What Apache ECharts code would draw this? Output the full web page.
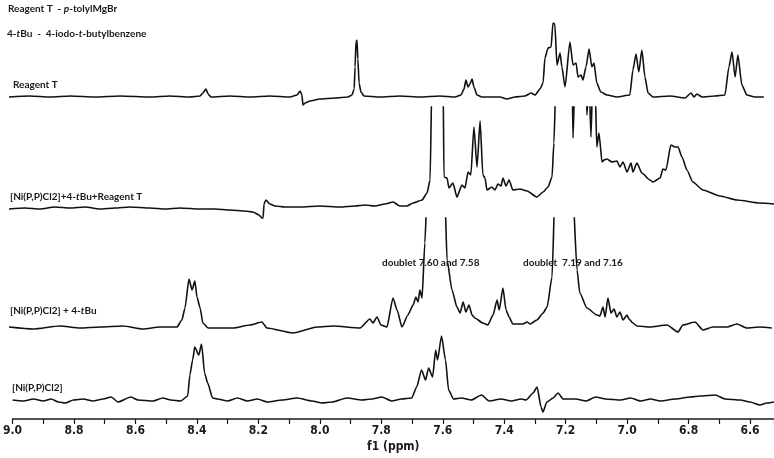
<!DOCTYPE html>
<html>
<head>
<meta charset="utf-8">
<script src="https://cdn.jsdelivr.net/npm/echarts@6/dist/echarts.min.js"></script>
<style>
  html, body { margin: 0; padding: 0; background: #fff; }
  #chart { width: 774px; height: 458px; }
</style>
</head>
<body>
<div id="chart"></div>
<script>
// spectra: [shift (ppm), intensity above baseline]
const reagentT = [
  [9.000, 0], [8.932, 1], [8.867, 0], [8.802, 1], [8.721, 0], [8.640, 1], [8.543, 0], [8.479, 1],
  [8.414, 0], [8.381, 1], [8.372, 4], [8.362, 8], [8.355, 3], [8.346, 0], [8.284, 1], [8.219, 0],
  [8.155, 1], [8.090, 0], [8.067, 2], [8.057, 6], [8.051, 2], [8.048, -8], [8.041, -6], [8.025, -4],
  [7.993, -2], [7.944, -1], [7.902, 0], [7.889, 2], [7.882, 8], [7.879, 30], [7.876, 55], [7.873, 57],
  [7.870, 38], [7.866, 14], [7.860, 5], [7.850, 1], [7.798, 0], [7.734, 1], [7.669, 0], [7.604, 1],
  [7.555, 0], [7.536, 2], [7.526, 8], [7.520, 17], [7.513, 10], [7.507, 13], [7.500, 18], [7.494, 10],
  [7.484, 2], [7.468, 0], [7.410, 0], [7.387, -2], [7.361, 0], [7.329, 1], [7.309, 4], [7.296, 2],
  [7.280, 8], [7.270, 14], [7.264, 39], [7.254, 49], [7.244, 50], [7.238, 74], [7.232, 73], [7.225, 32],
  [7.215, 44], [7.209, 30], [7.199, 10], [7.183, 55], [7.173, 32], [7.163, 34], [7.157, 20], [7.147, 22],
  [7.141, 17], [7.131, 30], [7.121, 48], [7.112, 30], [7.105, 34], [7.096, 14], [7.083, 5], [7.063, 2],
  [7.031, 0], [6.989, 2], [6.979, 27], [6.969, 43], [6.960, 25], [6.950, 47], [6.940, 20], [6.930, 4],
  [6.914, 0], [6.859, 1], [6.810, -1], [6.791, 4], [6.781, 0], [6.772, 3], [6.755, 0], [6.713, 1],
  [6.681, 2], [6.668, 30], [6.658, 45], [6.648, 20], [6.639, 42], [6.626, 12], [6.610, 2], [6.584, 0],
  [6.555, 0]
];

const niMix = [
  [9.000, -1], [8.948, 0], [8.900, -1], [8.851, 1], [8.802, 0], [8.754, 1], [8.705, -1], [8.657, 0],
  [8.608, 1], [8.543, 0], [8.495, -1], [8.446, 0], [8.381, -1], [8.333, -1], [8.284, -2], [8.236, -3],
  [8.210, -4], [8.190, -7], [8.181, -10], [8.177, -10], [8.174, 4], [8.168, 8], [8.155, 4], [8.138, 2],
  [8.106, 1], [8.057, 1], [7.993, 2], [7.928, 1], [7.879, 2], [7.847, 3], [7.815, 2], [7.782, 4],
  [7.756, 6], [7.734, 2], [7.711, 2], [7.691, 5], [7.662, 8], [7.646, 15], [7.636, 28], [7.630, 130],
  [7.594, 130], [7.591, 31], [7.581, 30], [7.575, 20], [7.562, 25], [7.549, 11], [7.533, 23], [7.523, 20],
  [7.513, 36], [7.504, 33], [7.494, 81], [7.484, 41], [7.474, 87], [7.465, 33], [7.458, 30], [7.452, 18],
  [7.436, 21], [7.426, 18], [7.416, 24], [7.406, 22], [7.400, 30], [7.390, 22], [7.380, 28], [7.368, 18],
  [7.345, 19], [7.322, 17], [7.290, 11], [7.270, 16], [7.254, 21], [7.241, 31], [7.235, 65], [7.228, 130],
  [7.176, 130], [7.173, 70], [7.167, 130], [7.131, 130], [7.128, 93], [7.121, 130], [7.115, 71], [7.109, 130],
  [7.102, 130], [7.096, 61], [7.089, 75], [7.079, 46], [7.073, 48], [7.063, 49], [7.047, 46], [7.031, 47],
  [7.021, 41], [7.011, 46], [6.998, 36], [6.985, 45], [6.979, 36], [6.966, 45], [6.950, 35], [6.924, 28],
  [6.914, 26], [6.891, 30], [6.882, 39], [6.872, 38], [6.856, 63], [6.843, 61], [6.833, 61], [6.820, 51],
  [6.804, 38], [6.785, 26], [6.752, 18], [6.697, 12], [6.642, 8], [6.568, 5], [6.522, 4]
];

const niTBu = [
  [9.000, 0], [8.922, -2], [8.835, 1], [8.770, -1], [8.705, 0], [8.631, 1], [8.566, -2], [8.511, 0],
  [8.456, 0], [8.440, 7], [8.430, 19], [8.417, 48], [8.407, 37], [8.398, 46], [8.391, 30], [8.381, 19],
  [8.372, 4], [8.355, -1], [8.274, -1], [8.219, 2], [8.181, 5], [8.164, -1], [8.080, -6], [8.002, 0],
  [7.951, 1], [7.863, -1], [7.831, 8], [7.821, 4], [7.808, 10], [7.795, 2], [7.776, 0], [7.756, 29],
  [7.743, 17], [7.727, 0], [7.708, 12], [7.691, 22], [7.682, 30], [7.675, 25], [7.669, 37], [7.662, 29],
  [7.653, 84], [7.646, 130], [7.588, 130], [7.581, 67], [7.565, 37], [7.549, 20], [7.539, 14], [7.529, 25],
  [7.520, 15], [7.510, 22], [7.500, 12], [7.491, 9], [7.465, 4], [7.449, 2], [7.432, 12], [7.419, 27],
  [7.412, 17], [7.400, 39], [7.390, 17], [7.380, 10], [7.368, 3], [7.335, 3], [7.322, 5], [7.312, 3],
  [7.290, 7], [7.270, 14], [7.257, 20], [7.241, 50], [7.232, 130], [7.173, 130], [7.160, 57], [7.151, 34],
  [7.128, 19], [7.096, 12], [7.086, 11], [7.076, 20], [7.069, 10], [7.060, 29], [7.050, 14], [7.040, 18],
  [7.031, 10], [7.021, 15], [7.011, 7], [6.998, 12], [6.992, 8], [6.979, 4], [6.966, 1], [6.924, 0],
  [6.869, 2], [6.833, -5], [6.817, 2], [6.778, 5], [6.752, -3], [6.720, 0], [6.674, 0], [6.642, 3],
  [6.610, -1], [6.568, 0], [6.529, -1]
];

const niCl2 = [
  [9.000, 0], [8.964, -1], [8.932, 1], [8.900, -1], [8.874, 1], [8.851, -2], [8.828, -3], [8.802, 0],
  [8.770, 1], [8.738, -1], [8.705, 1], [8.679, 3], [8.657, -2], [8.615, 3], [8.592, 0], [8.543, -1],
  [8.511, 2], [8.485, 0], [8.453, -1], [8.430, 4], [8.423, 25], [8.414, 40], [8.407, 53], [8.394, 45],
  [8.385, 56], [8.375, 27], [8.365, 17], [8.349, 2], [8.333, 1], [8.300, -1], [8.268, 2], [8.236, -1],
  [8.203, 1], [8.171, -2], [8.122, 0], [8.074, 2], [8.025, -1], [7.993, -3], [7.960, -2], [7.912, 2],
  [7.863, 0], [7.831, 1], [7.798, 3], [7.766, -1], [7.734, 1], [7.701, 2], [7.685, 13], [7.669, 30],
  [7.656, 20], [7.646, 32], [7.633, 23], [7.623, 50], [7.617, 40], [7.604, 64], [7.591, 40], [7.581, 10],
  [7.565, 1], [7.539, 2], [7.507, 0], [7.474, 5], [7.449, -1], [7.410, 1], [7.377, -1], [7.345, 1],
  [7.329, 0], [7.306, 7], [7.293, 13], [7.280, -7], [7.274, -12], [7.261, -2], [7.241, 2], [7.225, 7],
  [7.208, 1], [7.167, 1], [7.134, -1], [7.102, 3], [7.070, 1], [7.021, 0], [6.989, 2], [6.956, -1],
  [6.924, 1], [6.892, -1], [6.843, 1], [6.794, 3], [6.762, 4], [6.713, 5], [6.681, 1], [6.632, 0],
  [6.600, -2], [6.568, -5], [6.545, -3], [6.522, -2]
];

const tickLabels = ['9.0', '8.8', '8.6', '8.4', '8.2', '8.0', '7.8', '7.6', '7.4', '7.2', '7.0', '6.8', '6.6'];

// ppm runs right-to-left, so the x axis is laid out on -ppm
const X_MIN = -9.0;
const X_MAX = -6.522;
const lineColor = '#111';
const textFont = 'Lato, "Open Sans", sans-serif';
const axisFont = '"DejaVu Sans Condensed", "DejaVu Sans", sans-serif';

// one grid per trace, y in px above that trace's baseline
const grids = [
  { top: 0, height: 110, ymin: -13, ymax: 97 },
  { top: 107, height: 118, ymin: -17, ymax: 101 },
  { top: 218, height: 120, ymin: -11, ymax: 109 },
  { top: 330, height: 89, ymin: -19, ymax: 70 }
];
const traces = [reagentT, niMix, niTBu, niCl2];

const chart = echarts.init(document.getElementById('chart'));

const rich = {
  b: { fontFamily: textFont, fontWeight: 'bold', fontSize: 10, fill: '#1a1a1a' },
  i: { fontFamily: textFont, fontWeight: 'bold', fontStyle: 'italic', fontSize: 10, fill: '#1a1a1a' }
};
const label = (x, y, text) => ({
  type: 'text', x: x, y: y,
  style: { text: text, rich: rich, fill: '#1a1a1a', verticalAlign: 'middle' }
});

const option = {
  animation: false,
  backgroundColor: '#fff',
  grid: grids.map(g => ({ left: 9, right: 0, top: g.top, height: g.height })),
  xAxis: grids.map((g, i) => {
    const last = i === grids.length - 1;
    return {
      type: 'value',
      gridIndex: i,
      min: X_MIN,
      max: X_MAX,
      interval: 0.2,
      show: last,
      name: last ? 'f1 (ppm)' : '',
      nameLocation: 'middle',
      nameGap: 22,
      nameTextStyle: { fontFamily: axisFont, fontWeight: 'bold', fontSize: 12, color: '#1a1a1a' },
      axisLine: { show: last, onZero: false, lineStyle: { color: '#1a1a1a', width: 1.5 } },
      axisTick: { show: last, length: 5, lineStyle: { color: '#1a1a1a', width: 1.2 } },
      minorTick: { show: last, splitNumber: 2, length: 5, lineStyle: { color: '#1a1a1a', width: 1.2 } },
      splitLine: { show: false },
      axisLabel: {
        show: last,
        margin: 6,
        showMinLabel: true,
        showMaxLabel: false,
        alignMinLabel: 'center',
        fontFamily: axisFont,
        fontWeight: 'bold',
        fontSize: 12,
        color: '#1a1a1a',
        formatter: v => tickLabels.find(t => Math.abs(parseFloat(t) + v) < 1e-6) || ''
      }
    };
  }),
  yAxis: grids.map((g, i) => ({
    type: 'value', gridIndex: i, min: g.ymin, max: g.ymax, show: false
  })),
  series: traces.map((data, i) => ({
    type: 'line',
    xAxisIndex: i,
    yAxisIndex: i,
    data: data.map(p => [-p[0], p[1]]),
    showSymbol: false,
    smooth: 0.2,
    smoothMonotone: 'x',
    clip: true,
    lineStyle: { color: lineColor, width: 1.6 }
  })),
  graphic: [
    label(8, 9, '{b|Reagent T  - }{i|p}{b|-tolylMgBr}'),
    label(7, 34, '{b|4-}{i|t}{b|Bu  -  4-iodo-}{i|t}{b|-butylbenzene}'),
    label(13, 85, '{b|Reagent T}'),
    label(10, 197, '{b|[Ni(P,P)Cl2]+4-}{i|t}{b|Bu+Reagent T}'),
    label(10, 311, '{b|[Ni(P,P)Cl2] + 4-}{i|t}{b|Bu}'),
    label(12, 388, '{b|[Ni(P,P)Cl2]}'),
    label(382, 263, '{b|doublet 7.60 and 7.58}'),
    label(523, 263, '{b|doublet  7.19 and 7.16}')
  ]
};

chart.setOption(option);
</script>
</body>
</html>
